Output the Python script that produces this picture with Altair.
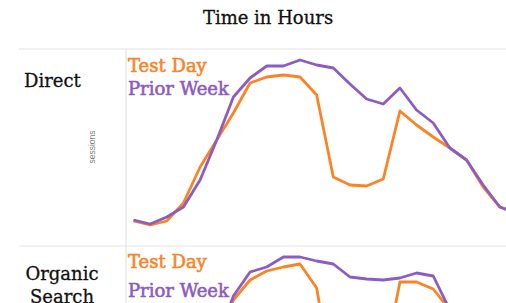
import altair as alt
import pandas as pd

hours = list(range(24))
direct_test = [25, 21, 25, 43, 79, 106, 133, 163, 169, 171, 169, 151, 69, 61, 60, 67, 135, 121, 109, 98, 86, 59, 39, 33]
direct_prior = [26, 22, 29, 39, 66, 106, 149, 168, 180, 180, 186, 181, 178, 162, 147, 142, 158, 136, 123, 98, 86, 61, 39, 33]
organic_test = [21, 16, 21, 33, 58, 98, 143, 163, 172, 176, 179, 155, 58, 63, 63, 76, 161, 161, 154, 133, 113, 83, 48, 33]
organic_prior = [23, 18, 23, 33, 63, 103, 147, 171, 176, 186, 186, 182, 179, 166, 164, 163, 165, 170, 167, 133, 113, 83, 48, 33]

series_names = ["Test Day", "Prior Week"]
row_names = ["Direct", "Organic Search"]
title_text = "Time in Hours"
y_title = "sessions"

ORANGE = "#fb8326"
PURPLE = "#8c5cc0"
GRID = "#e3e3e3"
SERIF = "DejaVu Serif"
W = 380
H = 254
P1 = 197  # height of the first row

xscale = alt.Scale(domain=[-0.45, 22.37], nice=False, zero=False)


def txt(label, x, y, color="#111111", size=18, align="left", font=SERIF, angle=None,
        baseline="alphabetic", line_height=None, stroke_w=0.0):
    kw = dict(font=font, fontSize=size, color=color, align=align, baseline=baseline)
    if angle is not None:
        kw["angle"] = angle
    if line_height is not None:
        kw["lineHeight"] = line_height
    if stroke_w > 0:
        kw["stroke"] = color
        kw["strokeWidth"] = stroke_w
    return alt.Chart(pd.DataFrame({"t": [label]})).mark_text(**kw).encode(
        x=alt.value(x), y=alt.value(y), text="t:N")


def hrule(y):
    return alt.Chart(pd.DataFrame({"a": [0]})).mark_rule(color=GRID, strokeWidth=1.2).encode(
        x=alt.value(-107), x2=alt.value(W), y=alt.value(y))


vrule = alt.Chart(pd.DataFrame({"a": [0]})).mark_rule(color=GRID, strokeWidth=1.2).encode(
    x=alt.value(0), y=alt.value(0), y2=alt.value(H))


def line(values, color, ydomain, yrange):
    df = pd.DataFrame({"hour": hours, "value": values})
    return alt.Chart(df).mark_line(color=color, strokeWidth=2.8, clip=True, strokeJoin="round").encode(
        x=alt.X("hour:Q", scale=xscale, axis=None),
        y=alt.Y("value:Q", scale=alt.Scale(domain=ydomain, range=yrange, nice=False, zero=False), axis=None))


layers = [
    hrule(0), hrule(P1), vrule,
    line(direct_test, ORANGE, [0, 197], [P1, 0]),
    line(direct_prior, PURPLE, [0, 197], [P1, 0]),
    line(organic_test, ORANGE, [140, 197], [H, P1]),
    line(organic_prior, PURPLE, [140, 197], [H, P1]),
    txt(title_text, 142, -25, align="center", stroke_w=0.3),
    txt(row_names[0], -102, 38, stroke_w=0.3),
    txt(y_title, -34, 98, color="#808080", size=8.5, align="center", font="Liberation Sans",
        angle=270, baseline="middle"),
    txt(series_names[0], 2, 23, color=ORANGE, stroke_w=0.6),
    txt(series_names[1], 2, 46, color=PURPLE, stroke_w=0.6),
    txt(["Organic", "Search"], -64, P1 + 34, align="center", line_height=23, stroke_w=0.3),
    txt(series_names[0], 2, P1 + 22, color=ORANGE, stroke_w=0.6),
    txt(series_names[1], 2, P1 + 51, color=PURPLE, stroke_w=0.6),
]

chart = alt.layer(*layers).resolve_scale(y="independent").properties(
    width=W, height=H,
    padding={"left": 126, "top": 49, "right": 0, "bottom": 0},
    autosize=alt.AutoSizeParams(type="none"),
    background="white",
).configure_view(stroke=None)

chart.save("out.html", embed_options={"renderer": "svg", "actions": False})
